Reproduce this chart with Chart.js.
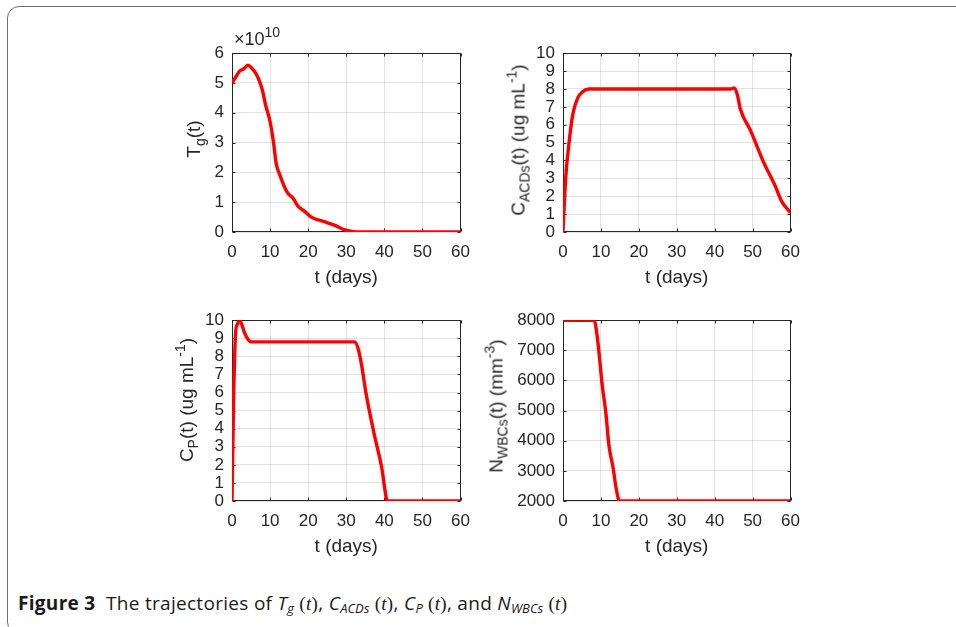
<!DOCTYPE html>
<html><head><meta charset="utf-8">
<script src="https://cdn.jsdelivr.net/npm/chart.js@4.4.1/dist/chart.umd.min.js"></script>
<style>
html,body{margin:0;padding:0;background:#fff;width:956px;height:627px;overflow:hidden;font-family:"Liberation Sans",Arial,sans-serif;}
#frame{position:absolute;left:7px;top:6px;width:990px;height:628px;border:1.5px solid #6e6e6e;border-radius:12px;box-sizing:border-box;}
canvas{position:absolute;}
.yt{position:absolute;white-space:nowrap;font-size:19px;color:#262626;transform:translate(-50%,-50%) rotate(-90deg);line-height:1;}
.yt sub{font-size:14px;vertical-align:-5px;line-height:0}
.yt sup{font-size:14px;vertical-align:8px;line-height:0}
#exp{position:absolute;left:234px;top:29px;font-size:18px;color:#262626;white-space:nowrap;}
#exp sup{font-size:14px;vertical-align:8px;line-height:0}
#cap{position:absolute;left:18px;top:590px;font-family:"Open Sans",sans-serif;font-size:19px;letter-spacing:0.3px;color:#1a1a1a;white-space:nowrap;}
#cap sub{font-size:13px;vertical-align:-3px;line-height:0;letter-spacing:0}
#cap .m{font-family:"Liberation Serif",serif;}
</style></head><body>
<div id="frame"></div>
<canvas id="c1"></canvas><canvas id="c2"></canvas><canvas id="c3"></canvas><canvas id="c4"></canvas>
<div class="yt" style="left:193px;top:139px">T<sub>g</sub>(t)</div>
<div class="yt" style="left:518px;top:140px">C<sub>ACDs</sub>(t) (ug mL<sup>-1</sup>)</div>
<div class="yt" style="left:186px;top:400px">C<sub>P</sub>(t) (ug mL<sup>-1</sup>)</div>
<div class="yt" style="left:496px;top:406px">N<sub>WBCs</sub>(t) (mm<sup>-3</sup>)</div>
<div id="exp">&times;10<sup>10</sup></div>
<div id="cap"><b>Figure 3</b>&nbsp;&nbsp;The trajectories of <i>T<sub>g</sub></i> <span class="m">(<i>t</i>)</span>, <i>C<sub>ACDs</sub></i> <span class="m">(<i>t</i>)</span>, <i>C<sub>P</sub></i> <span class="m">(<i>t</i>)</span>, and <i>N<sub>WBCs</sub></i> <span class="m">(<i>t</i>)</span></div>
<script>
// ---- data ----
const tTg   = [0, 1, 2, 3, 4.2, 5.3, 6.2, 7.0, 8.0, 8.8, 10.0, 10.9, 11.6, 12.6, 14.0, 14.8, 16.0, 17.3, 19.0, 20.8, 24.6, 27.0, 29.8, 31.5, 33.2, 60];
const Tg    = [5.0e10, 5.2e10, 5.4e10, 5.47e10, 5.6e10, 5.48e10, 5.33e10, 5.13e10, 4.75e10, 4.27e10, 3.7e10, 3.0e10, 2.3e10, 1.9e10, 1.45e10, 1.28e10, 1.14e10, 0.87e10, 0.7e10, 0.5e10, 0.33e10, 0.22e10, 0.06e10, 0.02e10, 0, 0];
const tCA   = [0, 0.7, 1.6, 2.6, 3.9, 5.2, 6.9, 44.2, 45.1, 46.0, 46.8, 49.4, 52.9, 55.9, 57.7, 60];
const CACDs = [0, 3.0, 5.0, 6.6, 7.5, 7.85, 8.0, 8.0, 8.05, 7.65, 6.85, 5.7, 3.9, 2.6, 1.7, 1.08];
const tCP   = [0, 0.4, 0.95, 1.4, 2.0, 3.3, 4.1, 5.0, 32.2, 33.1, 34.0, 35.2, 37.4, 39.3, 40.6, 40.8, 60];
const CP    = [0, 5.4, 9.3, 9.77, 10.0, 9.3, 8.97, 8.8, 8.8, 8.43, 7.54, 5.94, 3.63, 1.85, 0.07, 0, 0];
const tWBC  = [0, 8.2, 9.1, 10.4, 11.3, 12.1, 13.2, 14.1, 14.9, 60];
const NWBC  = [8000, 8000, 7380, 5780, 4930, 3860, 3110, 2360, 2000, 2000];
const xTicks = [0, 10, 20, 30, 40, 50, 60];
const xTitle = 't (days)';

const INK = '#262626';
const PADL = 70, PADT = 12, PADR = 16, PADB = 60;

const boxPlugin = {
  id: 'box',
  beforeDatasetsDraw(chart) {
    const {ctx, chartArea: a, scales: {x, y}} = chart;
    ctx.save();
    ctx.strokeStyle = INK; ctx.lineWidth = 1;
    const L = Math.round(a.left) + 0.5, R = Math.round(a.right) - 0.5;
    const T = Math.round(a.top) + 0.5, B = Math.round(a.bottom) - 0.5;
    ctx.strokeRect(L, T, R - L, B - T);
    ctx.beginPath();
    x.ticks.forEach(tk => {
      const px = Math.round(x.getPixelForValue(tk.value)) + 0.5;
      ctx.moveTo(px, B); ctx.lineTo(px, B - 3);
      ctx.moveTo(px, T); ctx.lineTo(px, T + 3);
    });
    y.ticks.forEach(tk => {
      const py = Math.round(y.getPixelForValue(tk.value)) + 0.5;
      ctx.moveTo(L, py); ctx.lineTo(L + 3, py);
      ctx.moveTo(R, py); ctx.lineTo(R - 3, py);
    });
    ctx.stroke();
    ctx.restore();
  }
};

function makeChart(id, g, xs, ys, ymin, ymax, ystep, fmt) {
  const cv = document.getElementById(id);
  const W = (g.r - g.l) + PADL + PADR, H = (g.b - g.t) + PADT + PADB;
  cv.width = W; cv.height = H;
  cv.style.left = (g.l - PADL) + 'px'; cv.style.top = (g.t - PADT) + 'px';
  cv.style.width = W + 'px'; cv.style.height = H + 'px';
  new Chart(cv, {
    type: 'line',
    data: { datasets: [{
      data: xs.map((v, i) => ({x: v, y: ys[i]})),
      borderColor: '#ff0000', borderWidth: 3.4, pointRadius: 0,
      cubicInterpolationMode: 'monotone', fill: false
    }]},
    options: {
      responsive: false, animation: false, devicePixelRatio: 1,
      layout: { padding: {left: 0, top: PADT, right: PADR, bottom: 0} },
      plugins: { legend: {display: false}, tooltip: {enabled: false} },
      scales: {
        x: {
          type: 'linear', min: 0, max: 60,
          afterBuildTicks: s => { s.ticks = xTicks.map(v => ({value: v})); },
          afterFit: s => { s.height = PADB; },
          grid: { color: 'rgba(38,38,38,0.13)', drawTicks: false },
          border: { display: false },
          ticks: { color: INK, padding: 10, maxRotation: 0, autoSkip: false, font: {family: 'Liberation Sans', size: 17} },
          title: { display: true, text: xTitle, color: INK, font: {family: 'Liberation Sans', size: 19}, padding: {top: 4, bottom: 3} }
        },
        y: {
          min: ymin, max: ymax,
          ticks: { stepSize: ystep, autoSkip: false, color: INK, padding: 8, font: {family: 'Liberation Sans', size: 17}, callback: fmt },
          afterFit: s => { s.width = PADL; },
          grid: { color: 'rgba(38,38,38,0.13)', drawTicks: false },
          border: { display: false }
        }
      }
    },
    plugins: [boxPlugin]
  });
}

makeChart('c1', {l: 232, t: 47, r: 464, b: 232}, tTg, Tg, 0, 6e10, 1e10, v => String(Math.round(v / 1e10)));
makeChart('c2', {l: 563, t: 47, r: 794, b: 232}, tCA, CACDs, 0, 10, 1, v => String(v));
makeChart('c3', {l: 232, t: 314, r: 464, b: 501}, tCP, CP, 0, 10, 1, v => String(v));
makeChart('c4', {l: 563, t: 314, r: 794, b: 501}, tWBC, NWBC, 2000, 8000, 1000, v => String(v));
</script>
</body></html>
